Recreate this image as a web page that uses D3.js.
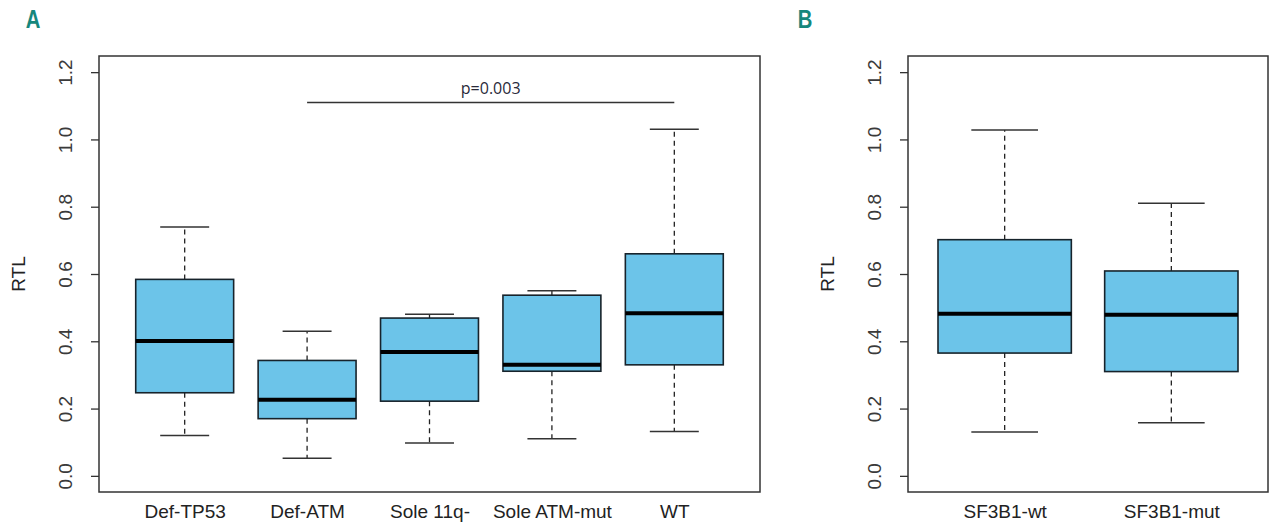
<!DOCTYPE html>
<html>
<head>
<meta charset="utf-8">
<script src="https://cdn.jsdelivr.net/npm/d3@7"></script>
<style>
  body { margin: 0; background: #fff; }
  text { font-family: "Liberation Sans", Arial, sans-serif; fill: #222; }
</style>
</head>
<body>
<div id="chart"></div>
<script>
// Panel A: RTL by genetic group
var groupsA = ["Def-TP53", "Def-ATM", "Sole 11q-", "Sole ATM-mut", "WT"];
var lowA  = [0.120, 0.052, 0.098, 0.110, 0.132];
var q1A   = [0.247, 0.170, 0.222, 0.311, 0.330];
var medA  = [0.401, 0.226, 0.368, 0.330, 0.483];
var q3A   = [0.584, 0.343, 0.469, 0.537, 0.660];
var highA = [0.740, 0.430, 0.480, 0.550, 1.030];

// Panel B: RTL by SF3B1 status
var groupsB = ["SF3B1-wt", "SF3B1-mut"];
var lowB  = [0.130, 0.158];
var q1B   = [0.365, 0.310];
var medB  = [0.482, 0.479];
var q3B   = [0.702, 0.609];
var highB = [1.028, 0.810];

// y axis ticks (same for both panels)
var yTicks = [0, 0.2, 0.4, 0.6, 0.8, 1.0, 1.2];

// significance bar in panel A
var pLabel = "p=0.003";
var pFrom = 2, pTo = 5, pLevel = 1.11;

var svgWidth = 1280, svgHeight = 530;
var svg = d3.select("#chart").append("svg")
    .attr("width", svgWidth)
    .attr("height", svgHeight);

var boxFill = "#6cc4e9";
var teal = "#16877c";

function drawPanel(opts) {
  var n = opts.groups.length;
  var top = 56, bottom = 492;

  // R-style extended ranges (4% padding)
  var x = d3.scaleLinear()
      .domain([0.5 - 0.04 * n, n + 0.5 + 0.04 * n])
      .range([opts.left, opts.right]);
  var y = d3.scaleLinear()
      .domain([-0.048, 1.248])
      .range([bottom, top]);

  var g = svg.append("g");

  // y axis
  var yAxis = g.append("g")
      .attr("transform", "translate(" + opts.left + ",0)")
      .call(d3.axisLeft(y).tickValues(yTicks).tickSize(8).tickFormat(d3.format(".1f")));
  yAxis.select(".domain").remove();
  yAxis.selectAll("line").attr("stroke", "#333").attr("stroke-width", 1.3);
  yAxis.selectAll("text")
      .attr("x", null).attr("dy", null)
      .attr("transform", "translate(-27,0) rotate(-90)")
      .attr("text-anchor", "middle")
      .style("font-size", "19px")
      .style("fill", "#3a3a3a");

  // x axis labels
  var xAxis = g.append("g")
      .attr("transform", "translate(0," + bottom + ")")
      .call(d3.axisBottom(x).tickValues(d3.range(1, n + 1)).tickSize(0)
        .tickFormat(function(d) { return opts.groups[d - 1]; }));
  xAxis.select(".domain").remove();
  xAxis.selectAll("text")
      .attr("y", 26).attr("dy", null)
      .style("font-size", "19px")
      .style("fill", "#222");

  // y label
  g.append("text")
      .attr("transform", "translate(" + (opts.left - 74) + "," + ((top + bottom) / 2) + ") rotate(-90)")
      .attr("text-anchor", "middle")
      .style("font-size", "19px")
      .style("fill", "#222")
      .text("RTL");

  // boxes
  var data = opts.groups.map(function(name, i) {
    return { pos: i + 1, low: opts.low[i], q1: opts.q1[i], med: opts.med[i], q3: opts.q3[i], high: opts.high[i] };
  });
  var halfBox = (x(1.4) - x(1));
  var halfCap = (x(1.2) - x(1));

  var b = g.selectAll(".box").data(data).enter().append("g").attr("class", "box");

  // dashed whiskers
  b.append("line")
      .attr("x1", d => x(d.pos)).attr("x2", d => x(d.pos))
      .attr("y1", d => y(d.q3)).attr("y2", d => y(d.high))
      .attr("stroke", "#222").attr("stroke-width", 1.3).attr("stroke-dasharray", "5,4");
  b.append("line")
      .attr("x1", d => x(d.pos)).attr("x2", d => x(d.pos))
      .attr("y1", d => y(d.q1)).attr("y2", d => y(d.low))
      .attr("stroke", "#222").attr("stroke-width", 1.3).attr("stroke-dasharray", "5,4");
  // caps
  b.append("line")
      .attr("x1", d => x(d.pos) - halfCap).attr("x2", d => x(d.pos) + halfCap)
      .attr("y1", d => y(d.high)).attr("y2", d => y(d.high))
      .attr("stroke", "#333").attr("stroke-width", 1.5);
  b.append("line")
      .attr("x1", d => x(d.pos) - halfCap).attr("x2", d => x(d.pos) + halfCap)
      .attr("y1", d => y(d.low)).attr("y2", d => y(d.low))
      .attr("stroke", "#333").attr("stroke-width", 1.5);
  // box
  b.append("rect")
      .attr("x", d => x(d.pos) - halfBox)
      .attr("width", 2 * halfBox)
      .attr("y", d => y(d.q3))
      .attr("height", d => y(d.q1) - y(d.q3))
      .attr("fill", boxFill)
      .attr("stroke", "#17232b").attr("stroke-width", 1.6);
  // median
  b.append("line")
      .attr("x1", d => x(d.pos) - halfBox).attr("x2", d => x(d.pos) + halfBox)
      .attr("y1", d => y(d.med)).attr("y2", d => y(d.med))
      .attr("stroke", "#000").attr("stroke-width", 4);

  // frame
  g.append("rect")
      .attr("x", opts.left).attr("y", top)
      .attr("width", opts.right - opts.left).attr("height", bottom - top)
      .attr("fill", "none").attr("stroke", "#333").attr("stroke-width", 1.5);

  // panel letter (condensed bold)
  svg.append("text")
      .attr("transform", "translate(" + opts.letterX + ",28) scale(0.78,1)")
      .attr("text-anchor", "middle")
      .style("font-weight", "bold")
      .style("font-size", "26px")
      .style("fill", teal)
      .text(opts.letter);

  return { x: x, y: y, g: g };
}

var panelA = drawPanel({
  groups: groupsA, low: lowA, q1: q1A, med: medA, q3: q3A, high: highA,
  left: 99, right: 760, letter: "A", letterX: 33
});

drawPanel({
  groups: groupsB, low: lowB, q1: q1B, med: medB, q3: q3B, high: highB,
  left: 908, right: 1268, letter: "B", letterX: 805
});

// significance line
panelA.g.append("line")
    .attr("x1", panelA.x(pFrom)).attr("x2", panelA.x(pTo))
    .attr("y1", panelA.y(pLevel)).attr("y2", panelA.y(pLevel))
    .attr("stroke", "#333").attr("stroke-width", 1.6);
panelA.g.append("text")
    .attr("x", (panelA.x(pFrom) + panelA.x(pTo)) / 2)
    .attr("y", panelA.y(pLevel) - 8)
    .attr("text-anchor", "middle")
    .style("font-family", "'Open Sans', 'Noto Sans', sans-serif")
    .style("font-size", "16px")
    .style("fill", "#2a2a3a")
    .text(pLabel);
</script>
</body>
</html>
